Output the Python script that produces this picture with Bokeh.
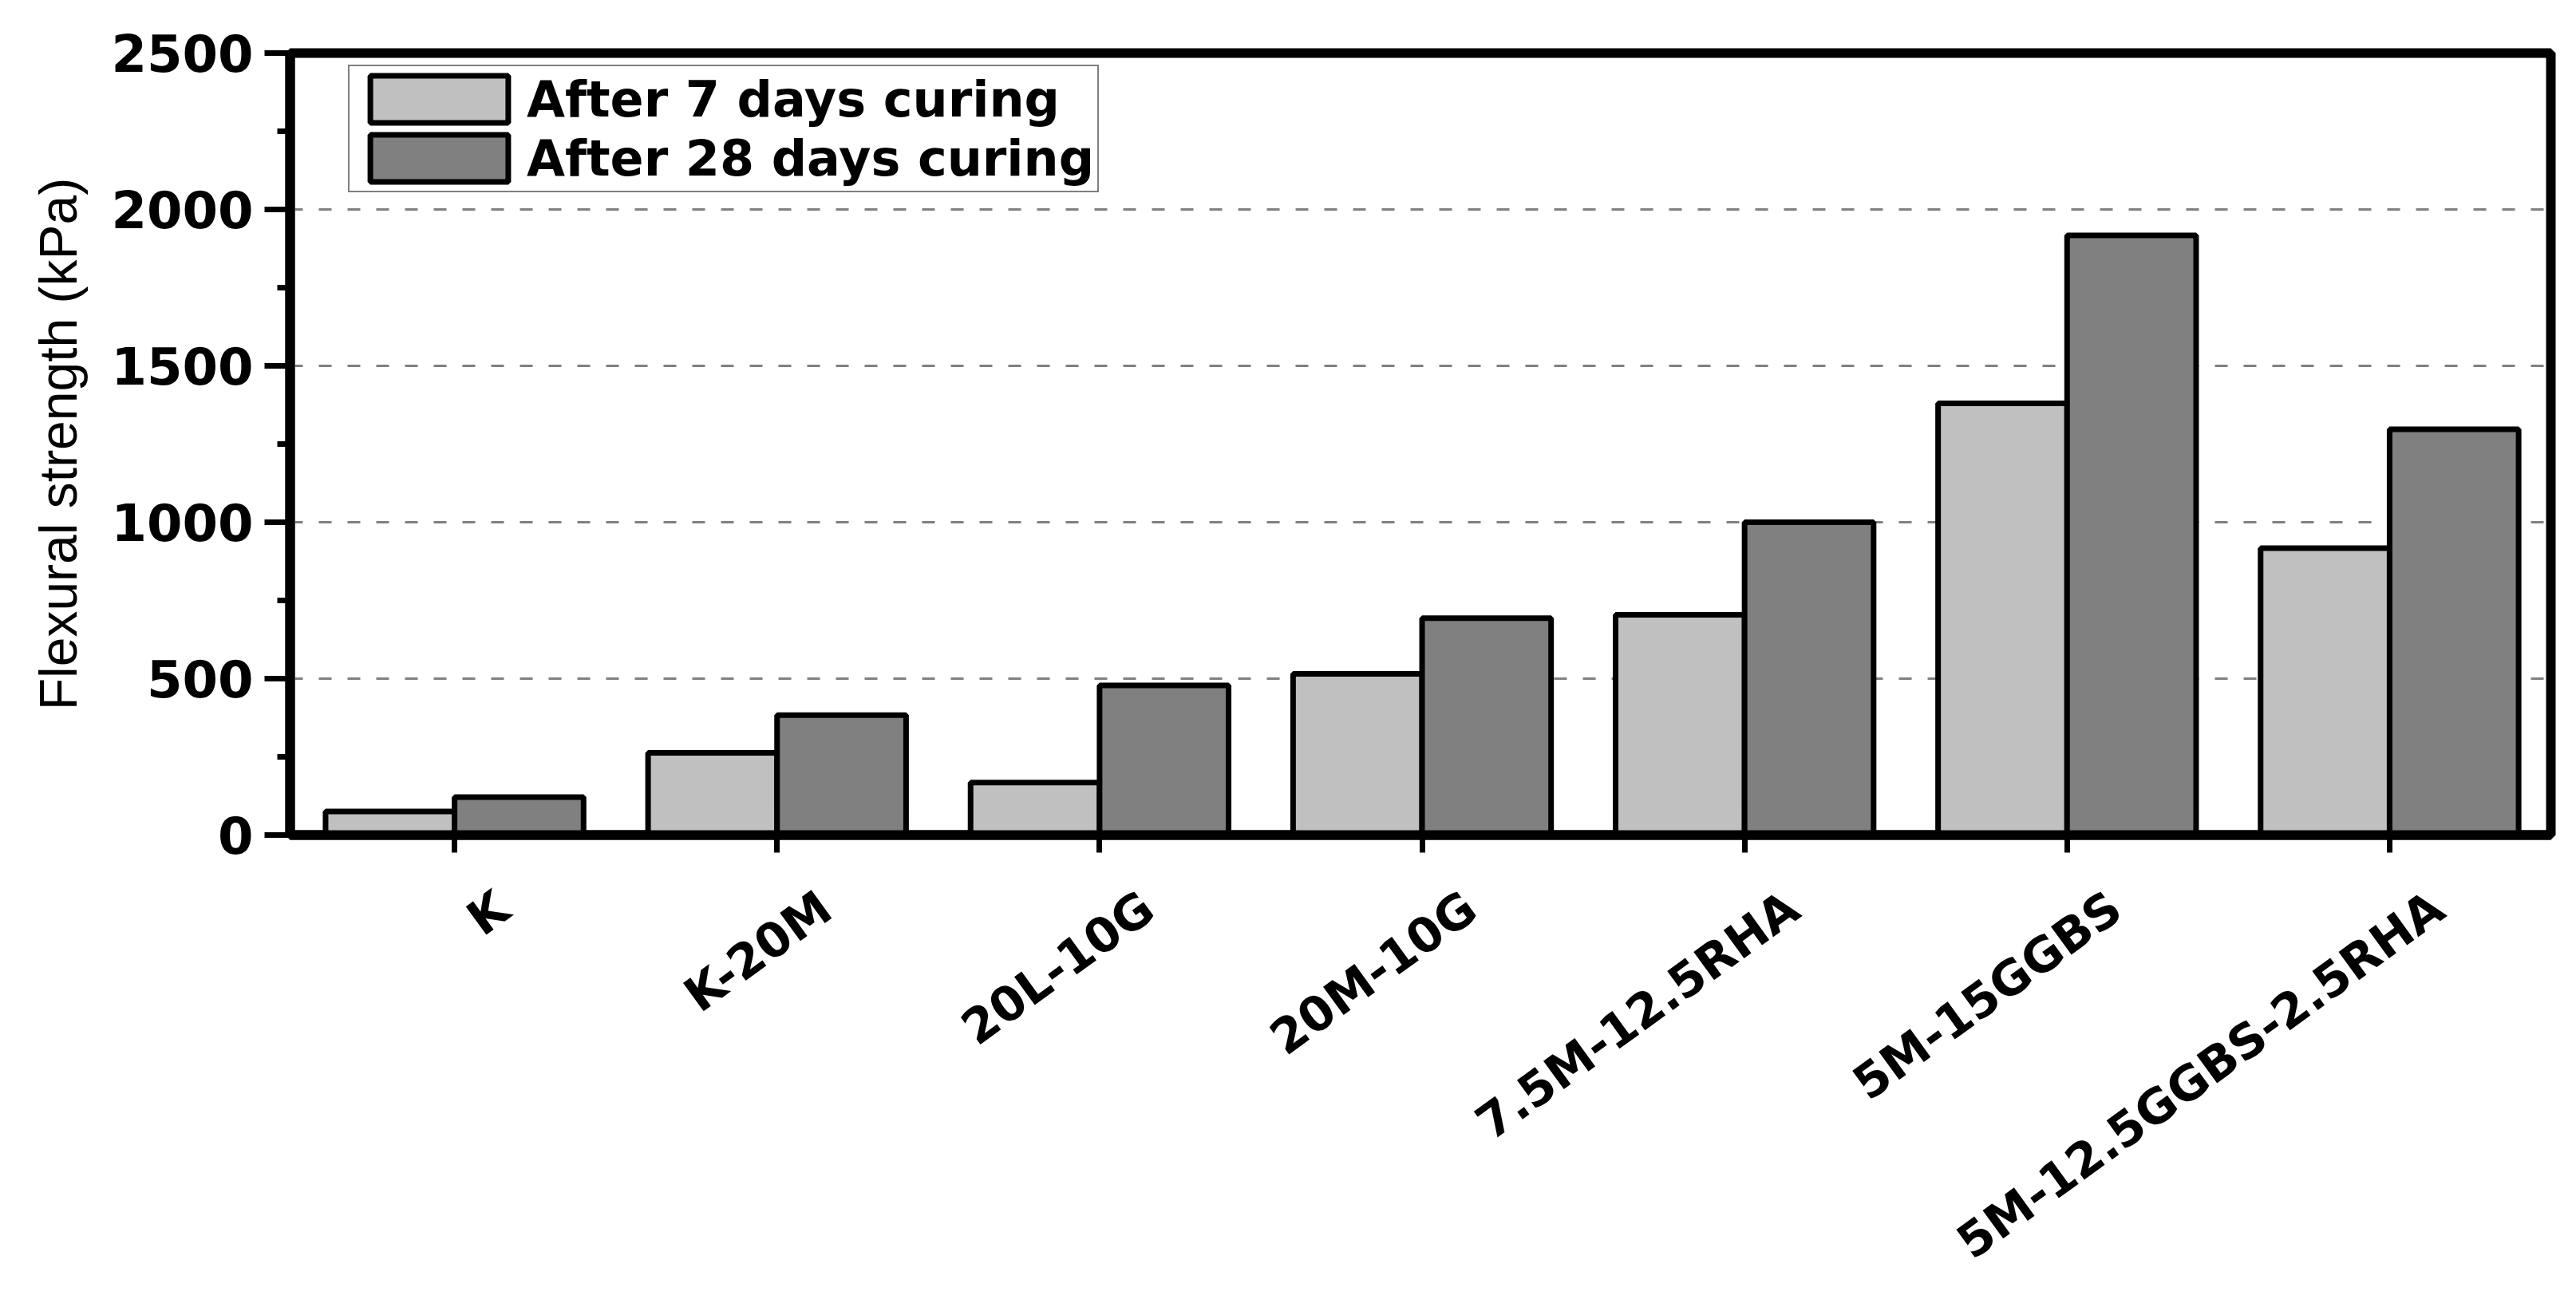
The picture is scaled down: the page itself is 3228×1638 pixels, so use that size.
import math
from bokeh.plotting import figure
from bokeh.models import (ColumnDataSource, Range1d, FixedTicker, SingleIntervalTicker,
                          Legend, LegendItem, LinearAxis)
from bokeh.transform import dodge
from bokeh.embed import file_html
from bokeh.resources import INLINE

categories = ["K", "K-20M", "20L-10G", "20M-10G", "7.5M-12.5RHA", "5M-15GGBS", "5M-12.5GGBS-2.5RHA"]
days7 = [75, 263, 168, 515, 704, 1380, 917]
days28 = [121, 383, 478, 693, 1000, 1917, 1297]
series_labels = ["After 7 days curing", "After 28 days curing"]
y_label = "Flexural strength (kPa)"

idx = list(range(len(categories)))
src = ColumnDataSource(dict(idx=idx, cat=categories, d7=days7, d28=days28))

p = figure(width=3212, height=1622, x_range=Range1d(-0.51, len(categories) - 0.5),
           y_range=Range1d(0, 2500),
           output_backend="svg", toolbar_location=None,
           min_border_left=363, min_border_right=16, min_border_top=66, min_border_bottom=574)
p.background_fill_color = "white"
p.border_fill_color = "white"

r1 = p.vbar(x=dodge('idx', -0.2), top='d7', width=0.4, source=src,
            fill_color="#c0c0c0", line_color="black", line_width=7)
r2 = p.vbar(x=dodge('idx', 0.2), top='d28', width=0.4, source=src,
            fill_color="#808080", line_color="black", line_width=7)

p.xgrid.visible = False
p.ygrid.grid_line_color = "#808080"
p.ygrid.grid_line_width = 3
p.ygrid.grid_line_dash = "16 20"

p.outline_line_color = "black"
p.outline_line_width = 12

# x axis: ticks at category centres
xa = p.xaxis[0]
xa.ticker = FixedTicker(ticks=idx, minor_ticks=[])
xa.major_label_overrides = {i: "" for i in idx}
xa.major_label_text_font_size = "1px"
xa.major_label_standoff = 0
xa.axis_line_width = 12
xa.major_tick_line_width = 7
xa.major_tick_out = 22
xa.major_tick_in = 0
xa.minor_tick_line_color = None

# x axis: category names (rotated)
label_shift = 0.15
label_pos = [i + label_shift for i in idx]
la = LinearAxis(ticker=FixedTicker(ticks=label_pos, minor_ticks=[]),
                major_label_overrides={pos: c for pos, c in zip(label_pos, categories)})
la.axis_line_color = None
la.major_tick_line_color = None
la.minor_tick_line_color = None
la.major_tick_out = 0
la.major_tick_in = 0
la.major_label_orientation = math.radians(36)
la.major_label_text_font = "DejaVu Sans"
la.major_label_text_font_size = "60px"
la.major_label_text_font_style = "bold"
la.major_label_text_color = "black"
la.major_label_text_line_height = 1.0
la.major_label_standoff = 62
p.add_layout(la, "below")

# y axis
ya = p.yaxis[0]
ya.ticker = SingleIntervalTicker(interval=500, num_minor_ticks=2)
ya.axis_line_width = 12
ya.major_tick_line_width = 7
ya.major_tick_out = 32
ya.major_tick_in = 0
ya.minor_tick_line_width = 7
ya.minor_tick_out = 16
ya.minor_tick_in = 0
ya.major_label_text_font = "DejaVu Sans"
ya.major_label_text_font_size = "64px"
ya.major_label_text_font_style = "bold"
ya.major_label_text_color = "black"
ya.major_label_standoff = 14
ya.axis_label = y_label
ya.axis_label_text_font = "Liberation Sans"
ya.axis_label_text_font_size = "66px"
ya.axis_label_text_font_style = "normal"
ya.axis_label_text_color = "black"
ya.axis_label_standoff = 26

legend = Legend(items=[LegendItem(label=series_labels[0], renderers=[r1]),
                       LegendItem(label=series_labels[1], renderers=[r2])],
                location=(73, 805))
legend.glyph_width = 216
legend.glyph_height = 74
legend.label_height = 62
legend.label_text_font = "DejaVu Sans"
legend.label_text_font_size = "62px"
legend.label_text_font_style = "bold"
legend.label_text_line_height = 1.0
legend.label_text_color = "black"
legend.label_standoff = 2
legend.padding = 4
legend.spacing = 0
legend.margin = 0
legend.border_line_color = "black"
legend.border_line_width = 2
legend.background_fill_color = "white"
legend.background_fill_alpha = 1.0
p.add_layout(legend)

open("out.html", "w").write(file_html(p, INLINE))
